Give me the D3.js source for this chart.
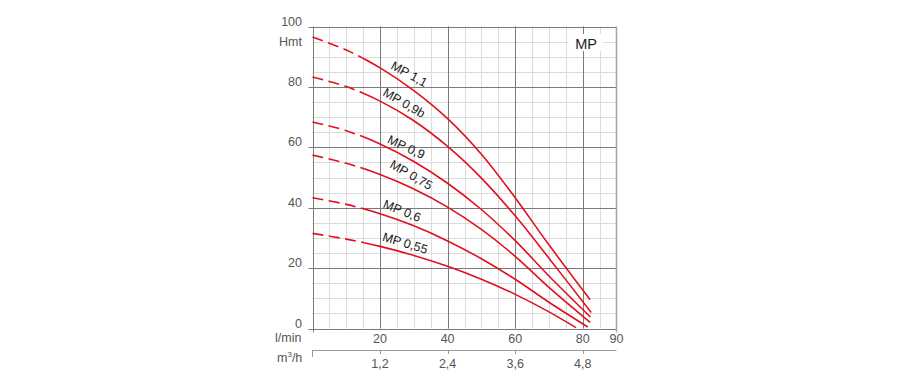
<!DOCTYPE html>
<html lang="en">
<head>
<meta charset="UTF-8">
<title>MP pump curves</title>
<script src="https://cdnjs.cloudflare.com/ajax/libs/d3/7.8.5/d3.min.js"></script>
<style>
    body { margin: 0; background: #fff; }
    svg text { font-family: Arial, "Liberation Sans", sans-serif; }
</style>
</head>
<body>
<div id="chart"></div>
<script>
// flow points in l/min (last point of each curve is its own end flow)
const flow = [0, 10, 20, 30, 40, 50, 60, 70];
const models = ["MP 1,1", "MP 0,9b", "MP 0,9", "MP 0,75", "MP 0,6", "MP 0,55"];
const endFlow = [82.2, 82.5, 82.3, 82.2, 81.5, 78];
const headMP11  = [96.5, 92.2, 86.3, 78.8, 69.5, 57.7, 43.3, 27.7, 9.5];
const headMP09b = [83.3, 80.1, 75.3, 68.8, 60.3, 49.8, 37.3, 23.3, 5.3];
const headMP09  = [68.4, 65.5, 61.1, 55.3, 48.1, 39.4, 29.1, 17.4, 3.8];
const headMP075 = [57.4, 54.7, 51, 46.2, 40.2, 32.8, 23.9, 13.6, 2];
const headMP06  = [43.3, 41.1, 38, 34, 29, 23.1, 16.3, 8.7, 0.5];
const headMP055 = [31.5, 29.6, 27.2, 24.2, 20.6, 16.3, 11.3, 5.5, 0.3];
const heads = [headMP11, headMP09b, headMP09, headMP075, headMP06, headMP055];

const yTicks = [0, 20, 40, 60, 80, 100];
const xTicks = [20, 40, 60, 80, 90];
const m3Ticks = [1.2, 2.4, 3.6, 4.8];
const dashedUpTo = 15;   // l/min, dashed part of each curve

const width = 900, height = 387;
const svg = d3.select("#chart").append("svg")
    .attr("width", width).attr("height", height);

const x = d3.scaleLinear().domain([0, 90]).range([312.5, 616.5]);
const y = d3.scaleLinear().domain([0, 100]).range([328.5, 26.5]);
const xm3 = d3.scaleLinear().domain([0, 5.4]).range([312.5, 616.5]);

const grid = svg.append("g");
// minor grid every 5
grid.selectAll(".vmin").data(d3.range(5, 90, 5)).join("line")
    .attr("x1", d => Math.round(x(d)) + 0.5).attr("x2", d => Math.round(x(d)) + 0.5)
    .attr("y1", y(100)).attr("y2", y(0))
    .attr("stroke", "#dcdcdc");
grid.selectAll(".hmin").data(d3.range(5, 100, 5)).join("line")
    .attr("x1", x(0)).attr("x2", x(90))
    .attr("y1", d => Math.round(y(d)) + 0.5).attr("y2", d => Math.round(y(d)) + 0.5)
    .attr("stroke", "#dcdcdc");

// white box behind MP title
svg.append("rect").attr("x", 569).attr("y", 34).attr("width", 34).attr("height", 17)
    .attr("fill", "#fff");

// major grid every 20
grid.append("g").selectAll("line").data([0, 20, 40, 60, 80]).join("line")
    .attr("x1", d => Math.round(x(d)) + 0.5).attr("x2", d => Math.round(x(d)) + 0.5)
    .attr("y1", y(100)).attr("y2", d => d === 0 ? y(0) + 4 : y(0))
    .attr("stroke", "#7a7a7a");
grid.append("g").selectAll("line").data(yTicks).join("line")
    .attr("x1", x(0) - 4).attr("x2", x(90))
    .attr("y1", d => Math.round(y(d)) + 0.5).attr("y2", d => Math.round(y(d)) + 0.5)
    .attr("stroke", "#7a7a7a");
// right border
grid.append("line")
    .attr("x1", x(90)).attr("x2", x(90)).attr("y1", y(100)).attr("y2", y(0) + 4)
    .attr("stroke", "#a8a8a8").attr("stroke-width", 1.6);

// y labels
svg.append("g").selectAll("text").data(yTicks).join("text")
    .attr("x", 302).attr("y", d => y(d) - 1)
    .attr("text-anchor", "end").attr("font-size", 12.5).attr("fill", "#555")
    .text(d => d);
svg.append("text").attr("x", 302).attr("y", 46).attr("text-anchor", "end")
    .attr("font-size", 12.5).attr("fill", "#555").text("Hmt");

// x labels (l/min)
svg.append("g").selectAll("text").data(xTicks).join("text")
    .attr("x", d => x(d)).attr("y", 343)
    .attr("text-anchor", "middle").attr("font-size", 12.5).attr("fill", "#555")
    .text(d => d);
svg.append("text").attr("x", 275).attr("y", 342)
    .attr("font-size", 12.5).attr("fill", "#555").text("l/min");

// second axis m3/h
const ax2 = svg.append("g").attr("stroke", "#999");
ax2.append("line").attr("x1", x(0)).attr("x2", x(90)).attr("y1", 350.5).attr("y2", 350.5);
ax2.append("line").attr("x1", x(0)).attr("x2", x(0)).attr("y1", 350).attr("y2", 357);
ax2.selectAll(".t").data(m3Ticks).join("line")
    .attr("x1", d => Math.round(xm3(d)) + 0.5).attr("x2", d => Math.round(xm3(d)) + 0.5)
    .attr("y1", 350).attr("y2", 354);
svg.append("g").selectAll("text").data(m3Ticks).join("text")
    .attr("x", d => xm3(d)).attr("y", 368)
    .attr("text-anchor", "middle").attr("font-size", 12.5).attr("fill", "#555")
    .text(d => String(d).replace(".", ","));
const m3 = svg.append("text").attr("x", 277).attr("y", 362)
    .attr("font-size", 12.5).attr("fill", "#555");
m3.append("tspan").text("m");
m3.append("tspan").attr("font-size", 8).attr("dy", -5).text("3");
m3.append("tspan").attr("dy", 5).text("/h");

// curves
const defs = svg.append("defs");
defs.append("clipPath").attr("id", "clipDash").append("rect")
    .attr("x", 0).attr("y", 0).attr("width", x(dashedUpTo)).attr("height", height);
defs.append("clipPath").attr("id", "clipSolid").append("rect")
    .attr("x", x(dashedUpTo)).attr("y", 0).attr("width", width).attr("height", height);

const line = d3.line().x(d => x(d[0])).y(d => y(d[1])).curve(d3.curveCatmullRom.alpha(0.5));
const red = "#e2101e";

heads.forEach((h, i) => {
    const q = flow.concat([endFlow[i]]);
    const pts = h.map((v, j) => [q[j], v]);
    svg.append("path").datum(pts).attr("d", line)
        .attr("fill", "none").attr("stroke", red).attr("stroke-width", 1.6)
        .attr("stroke-dasharray", "11,5.5").attr("clip-path", "url(#clipDash)");
    svg.append("path").datum(pts).attr("d", line)
        .attr("fill", "none").attr("stroke", red).attr("stroke-width", 1.6)
        .attr("clip-path", "url(#clipSolid)");
});

// curve labels: centre in data units + rotation
const labelPos = [[28.6, 84.2, 29], [27.1, 74.6, 30], [27.7, 60.0, 25],
                  [29.2, 50.8, 30], [26.5, 38.9, 22], [27.4, 28.2, 17]];
svg.append("g").selectAll("text").data(models).join("text")
    .attr("transform", (d, i) => `translate(${x(labelPos[i][0])},${y(labelPos[i][1])}) rotate(${labelPos[i][2]})`)
    .attr("text-anchor", "middle").attr("dominant-baseline", "central")
    .attr("font-size", 12.5).attr("fill", "#1a1a1a")
    .text(d => d);

svg.append("text").attr("x", 586).attr("y", 49).attr("text-anchor", "middle")
    .attr("font-size", 14.5).attr("fill", "#222").text("MP");
</script>
</body>
</html>
